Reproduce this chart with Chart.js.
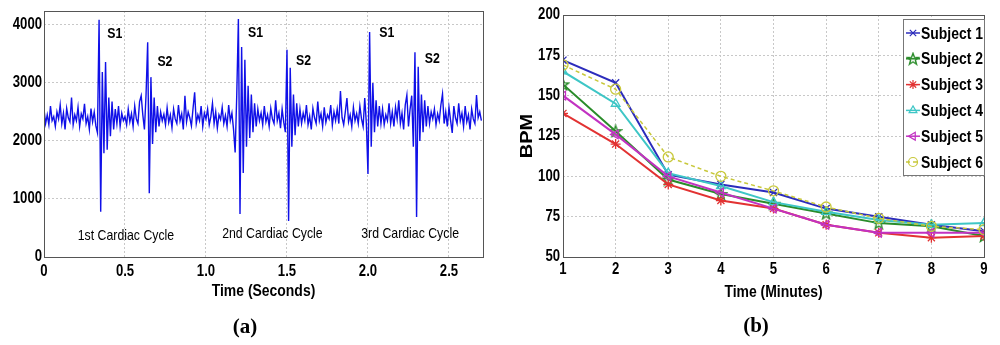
<!DOCTYPE html>
<html><head><meta charset="utf-8">
<script src="https://cdn.jsdelivr.net/npm/chart.js@4.4.1/dist/chart.umd.min.js"></script>
<style>
html,body{margin:0;padding:0;background:#fff;}
#wrap{position:relative;width:1000px;height:345px;overflow:hidden;background:#fff;}
canvas{position:absolute;top:0;}
#ca{left:0}
#cb{left:500px}
</style></head><body>
<div id="wrap"><canvas id="ca" width="500" height="345"></canvas><canvas id="cb" width="500" height="345"></canvas></div>
<script>
// ---------- Panel (a): heart sound signal ----------
const sigStart = 0;      // seconds
const sigStep = 0.01;    // seconds between samples
const sigValues = [
  2550,2300,2450,2280,2600,2350,2420,2250,2500,2380,
  2620,2300,2480,2200,2560,2400,2330,2750,2280,2450,
  2350,2580,2250,2470,2380,2640,2300,2420,2200,2560,
  2330,2500,2260,2140,4090,780,3190,1790,3360,1850,
  2750,2080,2680,2200,2550,2300,2600,2250,2480,2350,
  2420,2280,2550,2330,2470,2250,2600,2380,2300,2680,
  2780,2450,2200,2800,3700,1100,3100,1950,2750,2150,
  2600,2250,2500,2350,2460,2280,2570,2320,2450,2230,
  2550,2380,2300,2620,2350,2470,2200,2780,2330,2500,
  2400,2260,2560,2840,2300,2450,2350,2600,2250,2480,
  2380,2550,2280,2420,2650,2300,2500,2220,2450,2370,
  2580,2300,2440,2250,2620,2350,2480,2200,1800,2800,
  4100,740,3620,1450,3400,1900,2950,2050,2800,2150,
  2650,2250,2550,2350,2480,2280,2600,2330,2450,2250,
  2560,2380,2300,2700,2350,2480,2220,2550,2320,2150,
  3570,620,3260,1900,2800,2100,2650,2250,2550,2300,
  2480,2350,2620,2280,2430,2200,2560,2400,2300,2680,
  2350,2470,2250,2580,2320,2450,2380,2620,2270,2500,
  2350,2550,2300,2860,2400,2280,2500,2740,2330,2450,
  2250,2580,2350,2470,2300,2600,2380,2250,2740,2300,
  1430,3880,1900,3000,2150,2700,2250,2600,2300,2550,
  2280,2450,2350,2650,2300,2500,2250,2580,2380,2700,
  2300,2480,2200,2620,2790,2250,2550,2780,1900,3530,
  690,3280,2000,2800,2150,2700,2250,2600,2300,2500,
  2380,2550,2280,2470,2350,2620,2810,2300,2500,2250,
  2580,2350,2140,2600,2400,2300,2650,2350,2480,2250,
  2600,2330,2450,2200,2550,2380,2300,2790,2400,2500,2350
];
const secTicks = [0, 0.5, 1.0, 1.5, 2.0, 2.5];
const secTickLabels = ['0','0.5','1.0','1.5','2.0','2.5'];
const ampTicks = [0, 1000, 2000, 3000, 4000];
const ampTickLabels = ['0','1000','2000','3000','4000'];
const peakLabels = ['S1','S2','S1','S2','S1','S2'];
const peakLabelX = [0.39, 0.70, 1.26, 1.556, 2.07, 2.35];
const peakLabelY = [3845, 3360, 3860, 3380, 3860, 3410];
const cycleLabels = ['1st Cardiac Cycle','2nd Cardiac Cycle','3rd Cardiac Cycle'];
const cycleLabelX = [0.506, 1.41, 2.26];
const cycleLabelY = [362, 400, 400];

// ---------- Panel (b): heart rate ----------
const minutes = [1,2,3,4,5,6,7,8,9];
const subject1 = [172,158,101,95,90,80,75,70,66];
const subject2 = [157,128,98,89,83,77,71,69,63];
const subject3 = [139,120,95,85,80,70,65,62,63];
const subject4 = [165,145,102,94,84,78,73,70,71];
const subject5 = [150,126,100,90,80,70,65,65,65];
const subject6 = [169,154,112,100,91,81,74,69,67];
const subjectNames = ['Subject 1','Subject 2','Subject 3','Subject 4','Subject 5','Subject 6'];
const bpmTicks = [50,75,100,125,150,175,200];

const SANS = "'Liberation Sans',Arial,'DejaVu Sans',sans-serif";
const SERIF = "'Liberation Serif','Times New Roman',serif";
const NARROW = 0.82;

function narrowText(ctx, text, x, y, font, align, baseline, sx){
  ctx.save(); ctx.translate(x, y); ctx.scale(sx === undefined ? NARROW : sx, 1);
  ctx.font = font; ctx.textAlign = align; ctx.textBaseline = baseline; ctx.fillStyle = '#000';
  ctx.fillText(text, 0, 0); ctx.restore();
}

function pentagram(color){
  const c = document.createElement('canvas'); c.width = 14; c.height = 14;
  const g = c.getContext('2d'); g.strokeStyle = color; g.lineWidth = 1.4; g.beginPath();
  for (let k = 0; k < 10; k++){
    const a = -Math.PI/2 + k*Math.PI/5, r = (k%2===0) ? 6 : 2.5;
    const x = 7 + r*Math.cos(a), y = 7.5 + r*Math.sin(a);
    if (k===0) g.moveTo(x,y); else g.lineTo(x,y);
  }
  g.closePath(); g.stroke(); return c;
}

// frame + tick labels + x title (shared)
function frameAndTicks(cfg){
  return {
    id:'frame',
    afterDraw(chart){
      const {ctx, chartArea:a, scales:{x, y}} = chart;
      ctx.save(); ctx.strokeStyle = '#555'; ctx.lineWidth = 1;
      ctx.strokeRect(Math.round(a.left)+0.5, Math.round(a.top)+0.5, Math.round(a.right-a.left), Math.round(a.bottom-a.top));
      ctx.restore();
      const tf = "bold 16px " + SANS;
      cfg.xt.forEach((v,i) => narrowText(ctx, cfg.xl[i], x.getPixelForValue(v), a.bottom + cfg.xtOff, tf, 'center', 'middle'));
      cfg.yt.forEach((v,i) => narrowText(ctx, cfg.yl[i], a.left - cfg.ytPad, y.getPixelForValue(v), tf, 'right', 'middle'));
      narrowText(ctx, cfg.xTitle, (a.left + a.right)/2, a.bottom + cfg.titleOff, "bold 17px " + SANS, 'center', 'middle');
    }
  };
}

// ----- chart (a) -----
const sigPts = sigValues.map((v,i) => ({x: sigStart + i*sigStep, y: v}));
const annotA = {
  id:'annotA',
  afterDatasetsDraw(chart){
    const {ctx, scales:{x, y}} = chart;
    peakLabels.forEach((t,i) => narrowText(ctx, t, x.getPixelForValue(peakLabelX[i]), y.getPixelForValue(peakLabelY[i]), "bold 15px " + SANS, 'left', 'middle'));
    cycleLabels.forEach((t,i) => narrowText(ctx, t, x.getPixelForValue(cycleLabelX[i]), y.getPixelForValue(cycleLabelY[i]), "15px " + SANS, 'center', 'middle'));
    narrowText(ctx, '(a)', 245, 328, "bold 21px " + SERIF, 'center', 'middle', 1);
  }
};
new Chart(document.getElementById('ca'), {
  type:'line',
  data:{datasets:[{data:sigPts, borderColor:'#1010e8', borderWidth:1.4, pointRadius:0, tension:0, fill:false}]},
  options:{
    responsive:false, animation:false, devicePixelRatio:1,
    layout:{padding:{top:11, right:17, left:0, bottom:0}},
    plugins:{legend:{display:false}, tooltip:{enabled:false}},
    scales:{
      x:{type:'linear', min:0, max:2.71,
        afterBuildTicks:s => { s.ticks = secTicks.map(v => ({value:v})); },
        afterFit:s => { s.height = 88; },
        ticks:{display:false},
        grid:{color:'#c8c8c8', drawTicks:false},
        border:{display:false, dash:[2,2]}
      },
      y:{min:0, max:4240,
        afterBuildTicks:s => { s.ticks = ampTicks.map(v => ({value:v})); },
        afterFit:s => { s.width = 44; },
        ticks:{display:false},
        grid:{color:'#c8c8c8', drawTicks:false},
        border:{display:false, dash:[2,2]}
      }
    }
  },
  plugins:[annotA, frameAndTicks({xt:secTicks, xl:secTickLabels, yt:ampTicks, yl:ampTickLabels, xtOff:15, ytPad:2, xTitle:'Time (Seconds)', titleOff:34})]
});

// ----- chart (b) -----
const subjData = [subject1, subject2, subject3, subject4, subject5, subject6];
const subjColor = ['#2c2cbc','#2a8c2a','#e23232','#3ec6c6','#c232c2','#c8c83a'];
const subjStyle = ['crossRot', pentagram('#2a8c2a'), 'star', 'triangle', 'triangle', 'circle'];
const subjRot = [0,0,0,0,-90,0];
const subjDash = [[],[],[],[],[],[4,3]];
const datasetsB = subjData.map((arr,k) => ({
  label: subjectNames[k],
  data: arr.map((v,i) => ({x: minutes[i], y: v})),
  borderColor: subjColor[k], backgroundColor:'rgba(0,0,0,0)',
  borderWidth: k===5 ? 1.5 : 2, borderDash: subjDash[k],
  pointStyle: subjStyle[k], pointRotation: subjRot[k], pointRadius: 5,
  pointBorderColor: subjColor[k], pointBackgroundColor:'rgba(0,0,0,0)', pointBorderWidth:1.3,
  tension:0, fill:false, order: 6-k
}));
const legendB = {
  id:'legendB',
  afterDraw(chart){
    const {ctx, chartArea:a} = chart;
    const bx = Math.round(a.right) - 81, by = Math.round(a.top) + 4, bw = 81, bh = 156;
    ctx.save();
    ctx.fillStyle = '#fff'; ctx.fillRect(bx, by, bw, bh);
    ctx.strokeStyle = '#777'; ctx.lineWidth = 1; ctx.strokeRect(bx+0.5, by+0.5, bw, bh);
    chart.data.datasets.forEach((ds,k) => {
      const cy = by + 14 + k*25.8;
      ctx.strokeStyle = ds.borderColor; ctx.lineWidth = 1.5; ctx.setLineDash(ds.borderDash||[]);
      ctx.beginPath(); ctx.moveTo(bx+3, cy); ctx.lineTo(bx+17, cy); ctx.stroke(); ctx.setLineDash([]);
      if (Chart.helpers && Chart.helpers.drawPoint){
        ctx.strokeStyle = ds.borderColor; ctx.fillStyle = 'rgba(0,0,0,0)'; ctx.lineWidth = 1.2;
        Chart.helpers.drawPoint(ctx, {pointStyle:ds.pointStyle, rotation:ds.pointRotation, radius:4.5, borderWidth:1.2}, bx+10, cy);
      }
      narrowText(ctx, ds.label, bx+18, cy+1, "bold 17px " + SANS, 'left', 'middle');
    });
    ctx.restore();
    // y-axis title
    ctx.save();
    ctx.translate(28, (a.top + a.bottom)/2); ctx.rotate(-Math.PI/2); ctx.scale(1, 0.8);
    ctx.font = "bold 20px " + SANS; ctx.textAlign = 'center'; ctx.textBaseline = 'middle';
    ctx.fillStyle = '#000'; ctx.fillText('BPM', 0, 0);
    ctx.restore();
    narrowText(ctx, '(b)', 256, 327, "bold 21px " + SERIF, 'center', 'middle', 1);
  }
};
new Chart(document.getElementById('cb'), {
  type:'line',
  data:{datasets:datasetsB},
  options:{
    responsive:false, animation:false, devicePixelRatio:1,
    layout:{padding:{top:15, right:16, left:0, bottom:0}},
    plugins:{legend:{display:false}, tooltip:{enabled:false}},
    scales:{
      x:{type:'linear', min:1, max:9,
        afterBuildTicks:s => { s.ticks = minutes.map(v => ({value:v})); },
        afterFit:s => { s.height = 88; },
        ticks:{display:false},
        grid:{color:'#c8c8c8', drawTicks:false},
        border:{display:false, dash:[2,2]}
      },
      y:{min:50, max:200,
        afterBuildTicks:s => { s.ticks = bpmTicks.map(v => ({value:v})); },
        afterFit:s => { s.width = 63; },
        ticks:{display:false},
        grid:{color:'#c8c8c8', drawTicks:false},
        border:{display:false, dash:[2,2]}
      }
    }
  },
  plugins:[frameAndTicks({xt:minutes, xl:minutes.map(String), yt:bpmTicks, yl:bpmTicks.map(String), xtOff:13, ytPad:3, xTitle:'Time (Minutes)', titleOff:35}), legendB]
});
</script>
</body></html>
